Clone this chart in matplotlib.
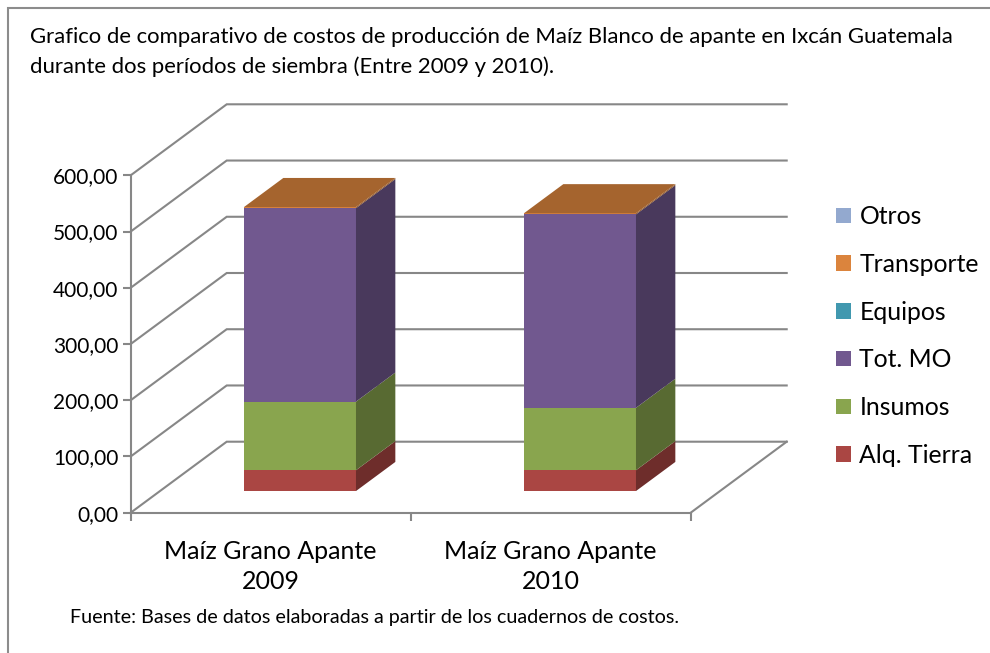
import matplotlib
matplotlib.use('Agg')
import matplotlib.pyplot as plt
from matplotlib.patches import Polygon, Patch, Rectangle
from matplotlib.colors import to_rgb
import numpy as np

plt.rcParams['font.family'] = ['Lato', 'DejaVu Sans']

# Data
categories = ['Maíz Grano Apante\n2009', 'Maíz Grano Apante\n2010']
series = ['Alq. Tierra', 'Insumos', 'Tot. MO', 'Equipos', 'Transporte', 'Otros']
alq_tierra = [37, 37]
insumos = [122, 111]
tot_mo = [344, 344]
equipos = [0, 0]
transporte = [2, 2]
otros = [0, 0]
colors = ['#AA4643', '#89A54E', '#71588F', '#4198AF', '#DB843D', '#93A9CF']
yticks = [0, 100, 200, 300, 400, 500, 600]

title1 = 'Grafico de comparativo de costos de producción de Maíz Blanco de apante en Ixcán Guatemala'
title2 = 'durante dos períodos de siembra (Entre 2009 y 2010).'
source = 'Fuente: Bases de datos elaboradas a partir de los cuadernos de costos.'

W, H = 990, 653
fig = plt.figure(figsize=(W / 100, H / 100), dpi=100)

# front plane of the plot area, in pixels
left_px, right_px = 130.7, 690.7
y0_px, ytop_px = 512.7, 175.3
ax = fig.add_axes([left_px / W, 1 - y0_px / H, (right_px - left_px) / W, (y0_px - ytop_px) / H])
ax.set_xlim(-0.5, 1.5)
ax.set_ylim(0, 600)

# depth of the 3D box in data units
px_x = (right_px - left_px) / 2.0
px_y = (y0_px - ytop_px) / 600.0
DX = 96 / px_x
DY = 71 / px_y
d_front, d_back = 0.305, 0.715
bar_w = 0.4

grid_c = '#878787'
glw = 1.5

# walls and floor
for v in yticks:
    ax.plot([-0.5, -0.5 + DX, 1.5 + DX], [v, v + DY, v + DY], color=grid_c, lw=glw,
            clip_on=False, zorder=1, solid_joinstyle='miter')
ax.plot([1.5, 1.5 + DX], [0, DY], color=grid_c, lw=glw, clip_on=False, zorder=1)

for s in ['top', 'right']:
    ax.spines[s].set_visible(False)
for s in ['left', 'bottom']:
    ax.spines[s].set_color(grid_c)
    ax.spines[s].set_linewidth(glw)
    ax.spines[s].set_zorder(1)

ax.set_yticks(yticks)
ax.set_yticklabels([f'{v},00' for v in yticks])
ax.set_xticks([-0.5, 0.5, 1.5])
ax.set_xticklabels([])
ax.set_xticks([0, 1], minor=True)
ax.set_xticklabels(categories, minor=True, linespacing=1.35)
ax.tick_params(axis='y', length=6, width=glw, color=grid_c, pad=3, labelsize=15, labelcolor='black')
ax.tick_params(axis='x', which='major', length=6, width=glw, color=grid_c)
ax.tick_params(axis='x', which='minor', length=0, pad=20, labelsize=18)
ax.patch.set_visible(False)


def shade(c, f):
    return tuple(np.array(to_rgb(c)) * f)


# stacked 3D bars
values = [alq_tierra, insumos, tot_mo, equipos, transporte, otros]
x = np.arange(len(categories)) + d_front * DX
bottoms = np.zeros(len(categories)) + d_front * DY
bdx = (d_back - d_front) * DX
bdy = (d_back - d_front) * DY
top_color = [None] * len(categories)
for vals, c in zip(values, colors):
    vals = np.array(vals, dtype=float)
    ax.bar(x, vals, bar_w, bottom=bottoms, color=c, zorder=3, clip_on=False)
    for i in range(len(categories)):
        if vals[i] <= 0:
            continue
        xr = x[i] + bar_w / 2
        yb, yt = bottoms[i], bottoms[i] + vals[i]
        ax.add_patch(Polygon([(xr, yb), (xr + bdx, yb + bdy), (xr + bdx, yt + bdy), (xr, yt)],
                             closed=True, facecolor=shade(c, 0.645), edgecolor='none',
                             zorder=3, clip_on=False))
        top_color[i] = c
    bottoms = bottoms + vals

for i in range(len(categories)):
    xl, xr = x[i] - bar_w / 2, x[i] + bar_w / 2
    yt = bottoms[i]
    ax.add_patch(Polygon([(xl, yt), (xl + bdx, yt + bdy), (xr + bdx, yt + bdy), (xr, yt)],
                         closed=True, facecolor=shade(top_color[i], 0.755), edgecolor='none',
                         zorder=3, clip_on=False))

# legend (reverse order, like Excel)
handles = [Patch(facecolor=c, label=s) for s, c in zip(series[::-1], colors[::-1])]
fig.legend(handles=handles, loc='center left', bbox_to_anchor=(836 / W, 1 - 336 / H),
           frameon=False, fontsize=17.8, handlelength=0.6, handleheight=0.6,
           handletextpad=0.35, labelspacing=1.0, borderaxespad=0, borderpad=0)

# texts and outer frame
fig.text(30 / W, 1 - 37 / H, title1, va='center', ha='left', fontsize=15.9)
fig.text(30 / W, 1 - 67 / H, title2, va='center', ha='left', fontsize=15.9)
fig.text(70 / W, 1 - 618 / H, source, va='center', ha='left', fontsize=14.2)
fig.add_artist(Rectangle((8 / W, -0.05), 1.1, 1 - 8 / H + 0.05, transform=fig.transFigure,
                         fill=False, edgecolor='#8C8C8C', lw=1.5))

fig.savefig('out.png', dpi=100)
